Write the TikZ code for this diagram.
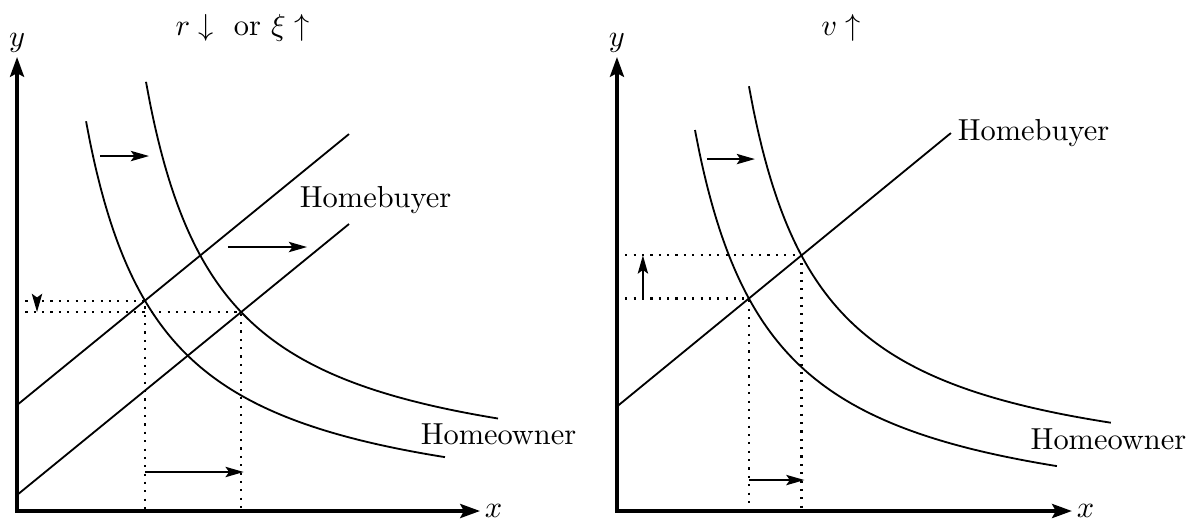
\documentclass[tikz,border=0pt]{standalone}
\usepackage{amsmath}
\usepackage{amssymb}
\usepackage{tikz}
\usetikzlibrary{positioning,arrows.meta,intersections,calc}

\begin{document}
\begin{tikzpicture}[
    axisline/.style={very thick, {Stealth[length=6.5pt,width=4.6pt,inset=1.2pt]}-{Stealth[length=6.5pt,width=4.6pt,inset=1.2pt]}},
    sched/.style={semithick},
    shiftarr/.style={semithick, -{Stealth[length=6pt,width=3.4pt,inset=1.2pt]}},
    guide/.style={line width=0.7pt, dash pattern=on 0.7pt off 2.05pt},
    lbl/.style={inner sep=1pt},
]
\useasboundingbox (-0.197,-0.116) rectangle (13.642,5.908);

% ===== LEFT PANEL =====
\coordinate (oA) at (0,0);
\draw[axisline] (0,5.249) node[lbl, above] (yA) {$y$} -- (oA) -- (5.353,0) node[lbl, right] (xA) {$x$};
\node (titleA) at (2.607,5.59) {$r\downarrow$\ \ or $\xi\uparrow$};

\draw[sched, name path=ownA] plot[domain=0.798:4.948, samples=80, smooth] (\x,{4.02/(\x+0.06)-0.18});
\draw[sched, name path=ownB] plot[domain=1.491:5.561, samples=80, smooth] (\x,{3.95/(\x-0.65)+0.265});
\draw[sched, name path=buyA] (0,1.225) -- (3.838,4.358);
\draw[sched, name path=buyB] (0,0.185) -- (3.838,3.318);
\node (ownerA) at (5.566,0.890) {Homeowner};
\node (buyerA) at (4.145,3.590) {Homebuyer};

\path[name intersections={of=ownA and buyA, by=eqA}];
\path[name intersections={of=ownB and buyB, by=eqB}];
\draw[guide] (oA |- eqA) -- (eqA) -- (eqA |- oA);
\draw[guide] (oA |- eqB) -- (eqB) -- (eqB |- oA);

\coordinate (lowA) at (0,0.451);
\coordinate (tickA) at (0.231,0);
\draw[shiftarr] (0.960,4.104) -- (1.526,4.104);
\draw[shiftarr] (2.439,3.052) -- (3.353,3.052);
\draw[shiftarr] (eqA |- lowA) -- ($(eqB |- lowA)+(0.03,0)$);
\draw[shiftarr] (tickA |- eqA) -- (tickA |- eqB);

% ===== RIGHT PANEL =====
\begin{scope}[xshift=6.936cm]
\coordinate (oB) at (0,0);
\draw[axisline] (0,5.249) node[lbl, above] (yB) {$y$} -- (oB) -- (5.260,0) node[lbl, right] (xB) {$x$};
\node (titleB) at (2.590,5.59) {$v\uparrow$};

\draw[sched, name path=ownC] plot[domain=0.902:5.087, samples=80, smooth] (\x,{4.15/(\x-0.02)-0.3});
\draw[sched, name path=ownD] plot[domain=1.526:5.711, samples=80, smooth] (\x,{3.94/(\x-0.683)+0.237});
\draw[sched, name path=buyC] (0,1.208) -- (3.861,4.370) node[right, inner sep=2pt] (buyerB) {Homebuyer};
\node (ownerB) at (5.682,0.832) {Homeowner};

\path[name intersections={of=ownC and buyC, by=eqC}];
\path[name intersections={of=ownD and buyC, by=eqD}];
\draw[guide] (oB |- eqC) -- (eqC) -- (eqC |- oB);
\draw[guide] (oB |- eqD) -- (eqD) -- (eqD |- oB);

\coordinate (lowB) at (0,0.358);
\coordinate (tickB) at (0.30,0);
\draw[shiftarr] (1.040,4.069) -- (1.595,4.069);
\draw[shiftarr] (eqC |- lowB) -- ($(eqD |- lowB)+(0.035,0)$);
\draw[shiftarr] (tickB |- eqC) -- (tickB |- eqD);
\end{scope}

\end{tikzpicture}
\end{document}
